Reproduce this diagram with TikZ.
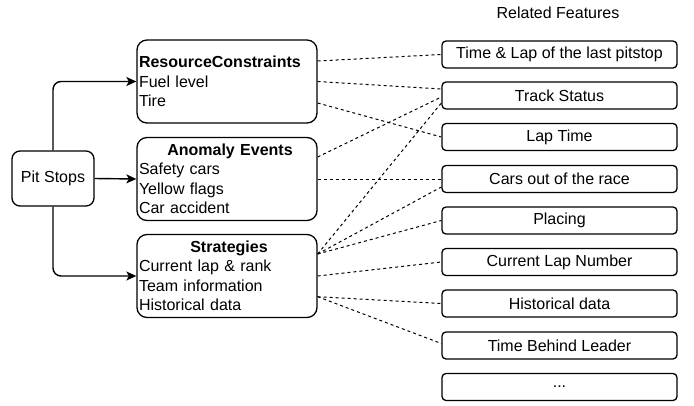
\documentclass[tikz,border=0pt]{standalone}
\usepackage{fontspec}
\setmainfont{Liberation Sans}
\usetikzlibrary{arrows.meta}
\begin{document}
\begin{tikzpicture}[x=1pt,y=-1pt,
 every node/.style={font=\fontsize{16}{19.5}\selectfont},
 catbox/.style={draw, line width=1.3pt, rounded corners=10pt, minimum width=180pt, minimum height=83pt, text width=176pt, align=left, inner sep=2pt},
 feat/.style={draw, line width=1.3pt, rounded corners=4pt, minimum width=235pt, minimum height=27pt, inner sep=0pt},
 rootbox/.style={draw, line width=1.3pt, rounded corners=8pt, minimum width=82pt, minimum height=55pt},
 flow/.style={line width=1.4pt, -{Stealth[length=10pt,width=9pt,inset=2.5pt]}, rounded corners=8pt},
 rel/.style={line width=1pt, dash pattern=on 3pt off 3pt}]
\useasboundingbox (0,0) rectangle (694,405);

\node[rootbox] (pit) at (53,178.5) {Pit Stops};
\node[catbox] (rc) at (227,81.5) {\textbf{ResourceConstraints}\\Fuel level\\Tire};
\node[catbox] (an) at (227,179) {\makebox[176pt]{\hspace{6pt}\textbf{Anomaly Events}}\\Safety cars\\Yellow flags\\Car accident};
\node[catbox] (st) at (227,276) {\makebox[176pt]{\hspace{4pt}\textbf{Strategies}}\\Current lap \& rank\\Team information\\Historical data};

\node (title) at (558,13) {Related Features};
\node[feat] (f1) at (559.5,54.5) {Time \& Lap of the last pitstop};
\node[feat] (f2) at (559.5,95.5) {Track Status};
\node[feat] (f3) at (559.5,137) {Lap Time};
\node[feat] (f4) at (559.5,179) {Cars out of the race};
\node[feat] (f5) at (559.5,220.5) {Placing};
\node[feat] (f6) at (559.5,262) {Current Lap Number};
\node[feat] (f7) at (559.5,303.5) {Historical data};
\node[feat] (f8) at (559.5,345.5) {Time Behind Leader};
\node[feat] (f9) at (559.5,387) {...};

\draw[flow] (pit.north) |- (rc.west);
\draw[flow] (pit.east) -- (an.west);
\draw[flow] (pit.south) |- (st.west);

\draw[rel] ([yshift=20.5pt]rc.east) -- (f1.west);
\draw[rel] (rc.east) -- ([yshift=6.5pt]f2.west);
\draw[rel] ([yshift=-21.5pt]rc.east) -- (f3.west);
\draw[rel] ([yshift=22pt]an.east) -- ([yshift=-1.5pt]f2.west);
\draw[rel] (an.east) -- (f4.west);
\draw[rel] ([yshift=22pt]st.east) -- ([yshift=-7.5pt]f2.west);
\draw[rel] ([yshift=22pt]st.east) -- ([yshift=-8pt]f4.west);
\draw[rel] ([yshift=22pt]st.east) -- (f5.west);
\draw[rel] (st.east) -- (f6.west);
\draw[rel] ([yshift=-20.7pt]st.east) -- (f7.west);
\draw[rel] ([yshift=-20.7pt]st.east) -- ([yshift=2pt]f8.west);
\end{tikzpicture}
\end{document}
